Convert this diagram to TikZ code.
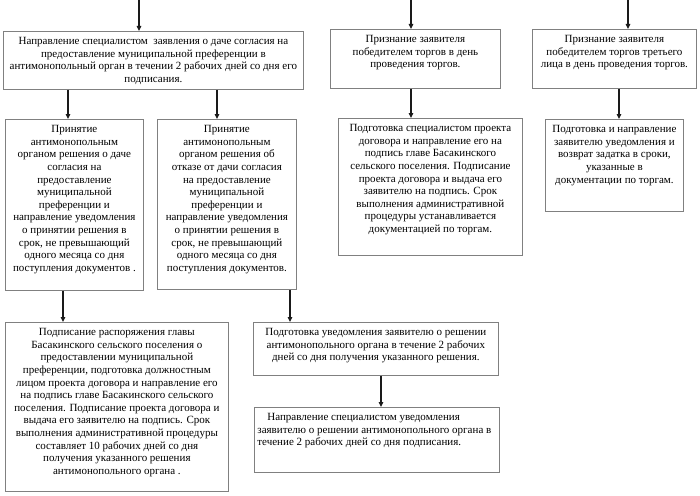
\documentclass[tikz,border=0pt]{standalone}
\usepackage{fontspec}
\setmainfont{Liberation Serif}
\usetikzlibrary{arrows.meta}
\definecolor{boxgray}{HTML}{808080}
\definecolor{linedark}{HTML}{1A1A1A}

% text block of a stage: width, height, text
\newcommand{\boxtext}[3]{\begin{minipage}[t][#2pt][t]{#1pt}\centering #3\end{minipage}}

\tikzset{
  stagebox/.style={draw=boxgray, line width=0.8pt, inner xsep=3pt, inner ysep=6pt,
    anchor=north west, font=\fontsize{11}{12.6}\selectfont},
  flow/.style={draw=linedark, line width=1.1pt, -{Triangle[length=5pt, width=4.5pt]}}
}

\begin{document}
\begin{tikzpicture}[x=1pt, y=-1pt]
  \useasboundingbox (0,0) rectangle (700,495);

  % Top row
  \node[stagebox] (n1) at (3,31) {\boxtext{294}{46}{Направление специалистом~ заявления о даче согласия на\\
    предоставление муниципальной преференции в\\
    антимонопольный орган в течении 2 рабочих дней со дня его\\
    подписания.}};
  \node[stagebox] (n2) at (330,29) {\boxtext{164}{47}{Признание заявителя\\
    победителем торгов в день\\
    проведения торгов.}};
  \node[stagebox] (n3) at (532,29) {\boxtext{158}{47}{Признание заявителя\\
    победителем торгов третьего\\
    лица в день проведения торгов.}};

  % Second row
  \node[stagebox] (n4) at (5,119) {\boxtext{132}{159}{Принятие\\
    антимонопольным\\
    органом решения о даче\\
    согласия на\\
    предоставление\\
    муниципальной\\
    преференции и\\
    направление уведомления\\
    о принятии решения в\\
    срок, не превышающий\\
    одного месяца со дня\\
    поступления документов .}};
  \node[stagebox] (n5) at (157,119) {\boxtext{133}{158}{Принятие\\
    антимонопольным\\
    органом решения об\\
    отказе от дачи согласия\\
    на предоставление\\
    муниципальной\\
    преференции и\\
    направление уведомления\\
    о принятии решения в\\
    срок, не превышающий\\
    одного месяца со дня\\
    поступления документов.}};
  \node[stagebox] (n6) at (338,118) {\boxtext{178}{125}{Подготовка специалистом проекта\\
    договора и направление его на\\
    подпись главе Басакинского\\
    сельского поселения. Подписание\\
    проекта договора и выдача его\\
    заявителю на подпись. Срок\\
    выполнения административной\\
    процедуры устанавливается\\
    документацией по торгам.}};
  \node[stagebox] (n7) at (545,119) {\boxtext{132}{80}{Подготовка и направление\\
    заявителю уведомления и\\
    возврат задатка в сроки,\\
    указанные в\\
    документации по торгам.}};

  % Third row
  \node[stagebox] (n8) at (5,322) {\boxtext{217}{157}{Подписание распоряжения главы\\
    Басакинского сельского поселения о\\
    предоставлении муниципальной\\
    преференции, подготовка должностным\\
    лицом проекта договора и направление его\\
    на подпись главе Басакинского сельского\\
    поселения. Подписание проекта договора и\\
    выдача его заявителю на подпись. Срок\\
    выполнения административной процедуры\\
    составляет 10 рабочих дней со дня\\
    получения указанного решения\\
    антимонопольного органа .}};
  \node[stagebox] (n9) at (253,322) {\boxtext{239}{41}{Подготовка уведомления заявителю о решении\\
    антимонопольного органа в течение 2 рабочих\\
    дней со дня получения указанного решения.}};
  \node[stagebox] (n10) at (254,407) {\boxtext{239}{53}{\raggedright
    \hspace*{10pt}Направление специалистом уведомления\\
    заявителю о решении антимонопольного органа в\\
    течение 2 рабочих дней со дня подписания.}};

  % Connectors
  \coordinate (in1) at (139,0);
  \coordinate (in2) at (411,0);
  \coordinate (in3) at (628,0);
  \coordinate (a4) at (68,0);
  \coordinate (a5) at (217,0);
  \coordinate (a6) at (411,0);
  \coordinate (a7) at (619,0);
  \coordinate (a8) at (63,0);
  \coordinate (a9) at (290,0);
  \coordinate (a10) at (381,0);

  \draw[flow] (in1) -- (in1 |- n1.north);
  \draw[flow] (in2) -- (in2 |- n2.north);
  \draw[flow] (in3) -- (in3 |- n3.north);
  \draw[flow] (a4 |- n1.south) -- (a4 |- n4.north);
  \draw[flow] (a5 |- n1.south) -- (a5 |- n5.north);
  \draw[flow] (a6 |- n2.south) -- (a6 |- n6.north);
  \draw[flow] (a7 |- n3.south) -- (a7 |- n7.north);
  \draw[flow] (a8 |- n4.south) -- (a8 |- n8.north);
  \draw[flow] (a9 |- n5.south) -- (a9 |- n9.north);
  \draw[flow] (a10 |- n9.south) -- (a10 |- n10.north);

\end{tikzpicture}
\end{document}
